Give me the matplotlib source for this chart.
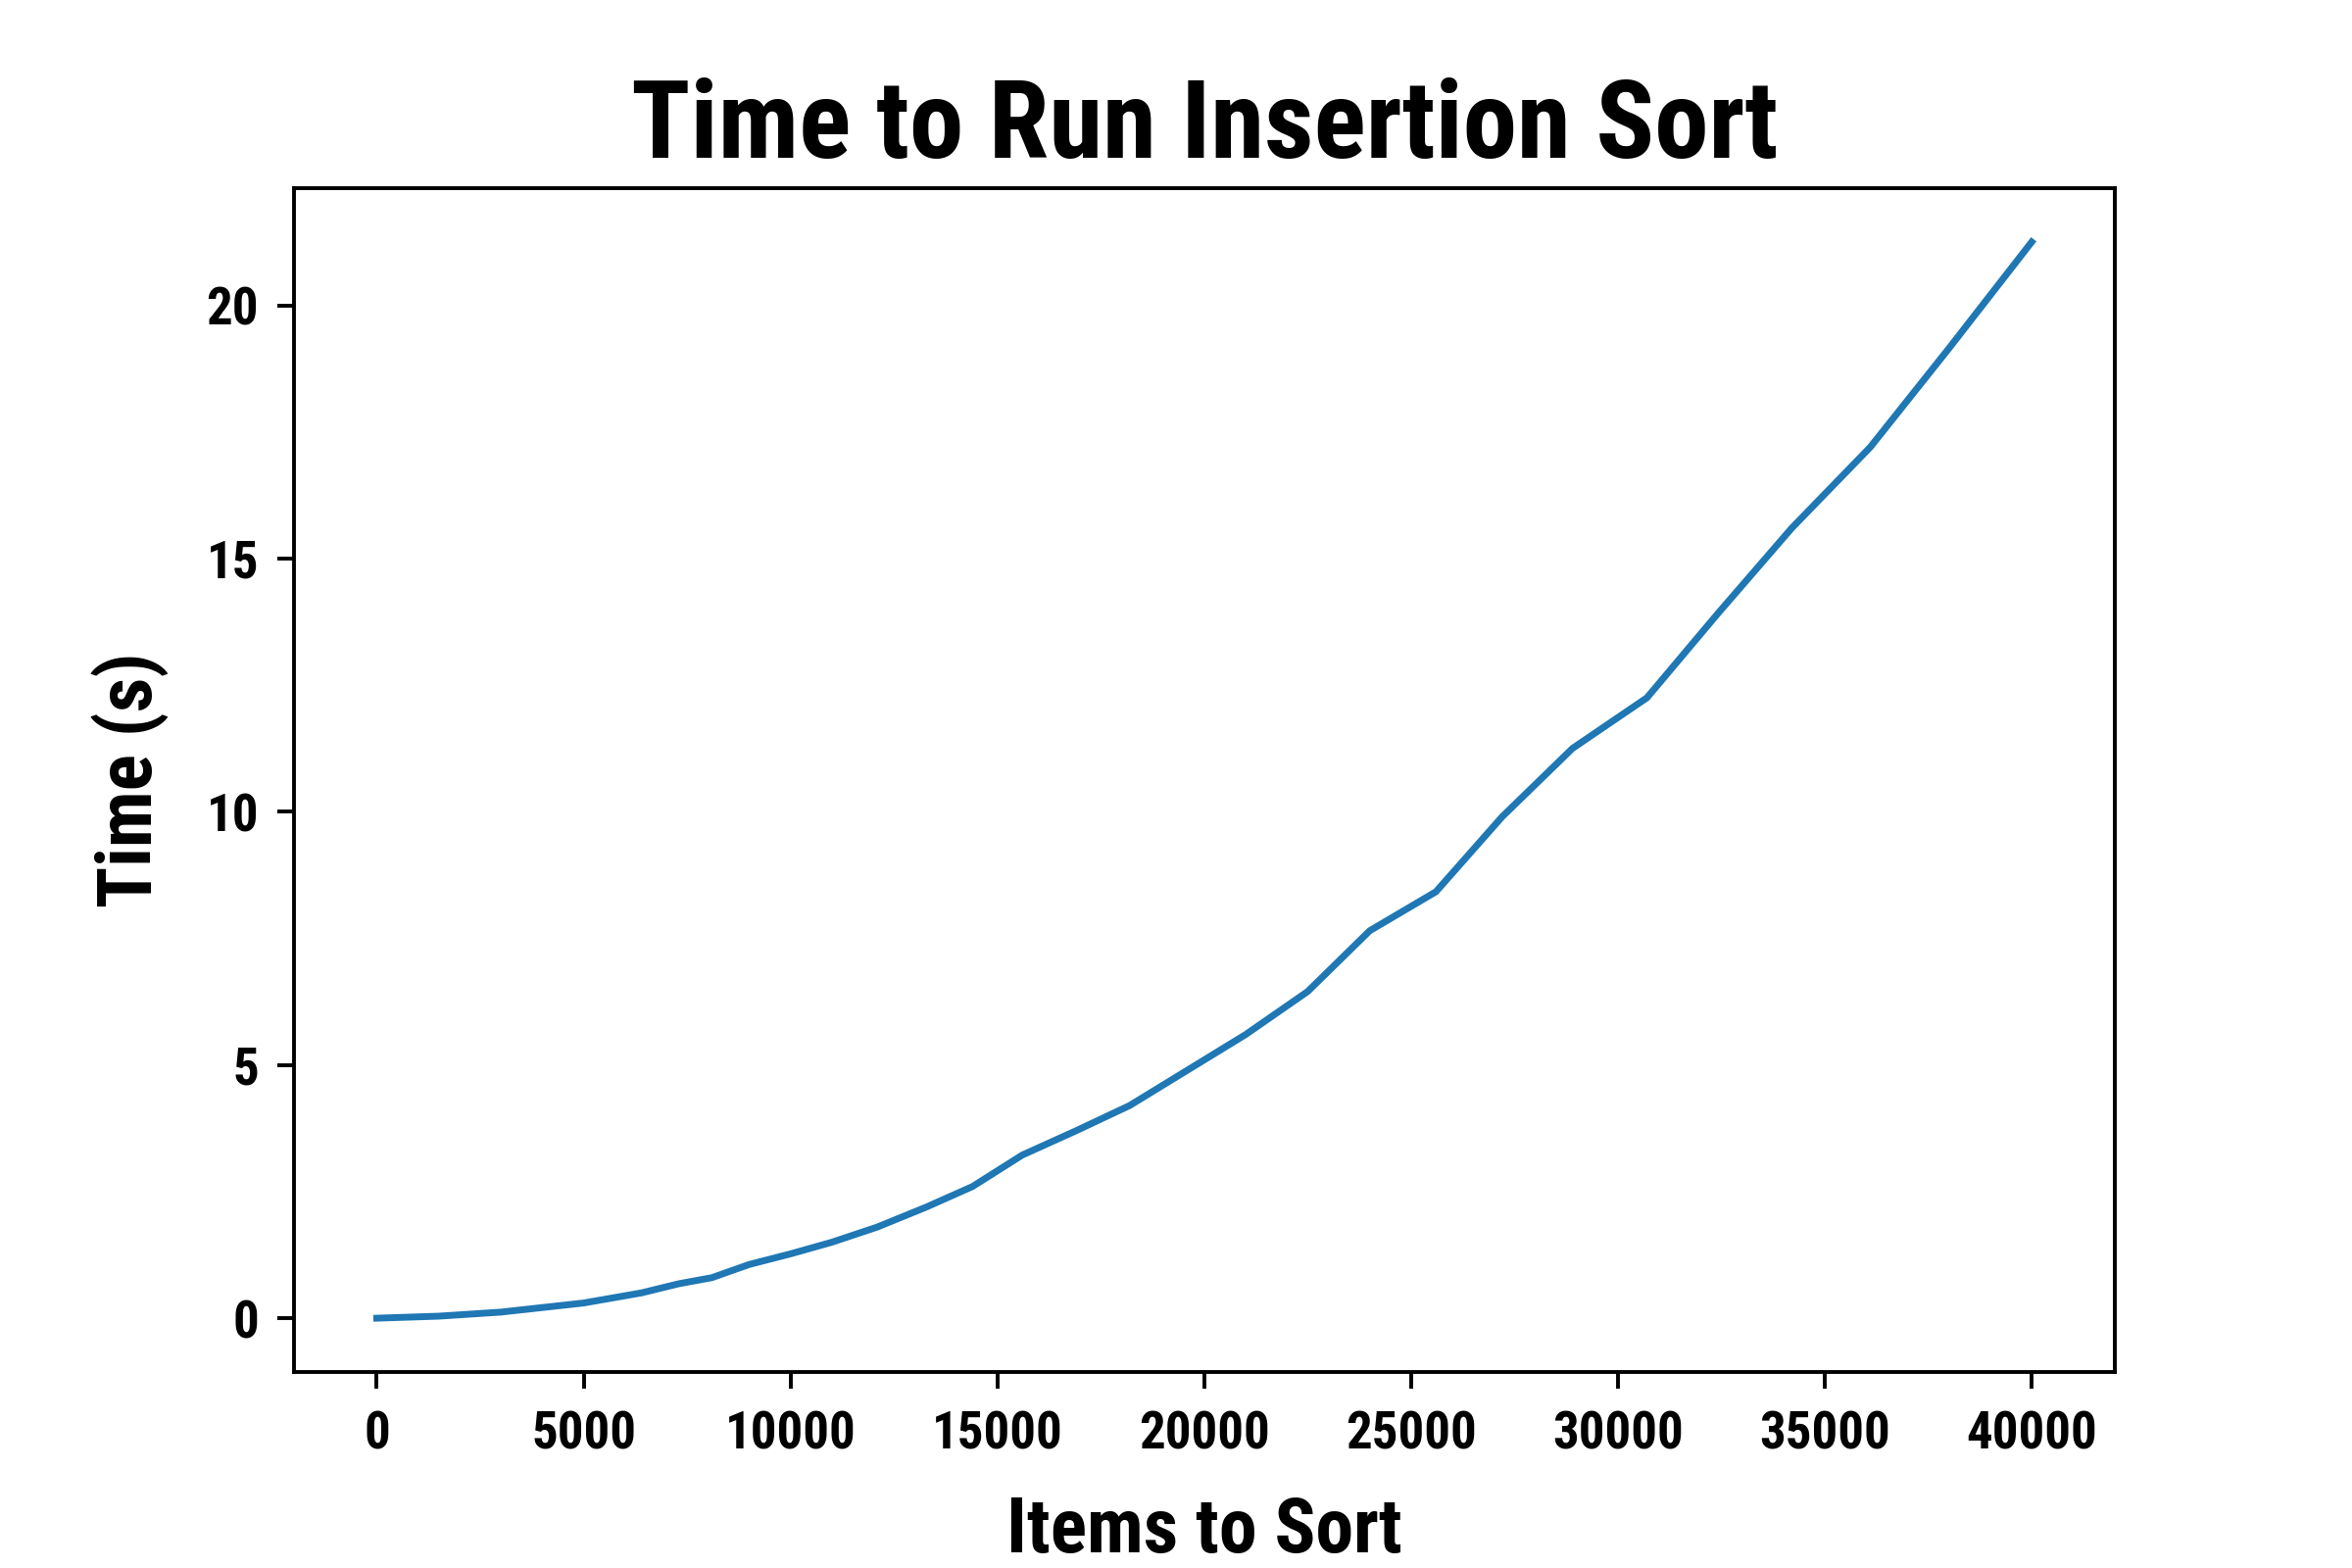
import matplotlib
matplotlib.use("Agg")
import matplotlib.pyplot as plt

# measured run times of insertion sort
items = [0, 1500, 3000, 5000, 6400, 7300, 8100, 9000, 10000, 11000, 12100,
         13300, 14400, 15600, 16900, 18200, 19600, 21000, 22500, 24000,
         25600, 27200, 28900, 30700, 32400, 34200, 36100, 38000, 40000]
seconds = [0.0, 0.04, 0.12, 0.3, 0.5, 0.68, 0.8, 1.06, 1.27, 1.5, 1.8,
           2.2, 2.6, 3.22, 3.7, 4.2, 4.9, 5.6, 6.45, 7.65,
           8.42, 9.9, 11.25, 12.25, 13.9, 15.6, 17.2, 19.15, 21.25]

title = "Time to Run Insertion Sort"
xlabel = "Items to Sort"
ylabel = "Time (s)"

# condensed bold look, falls back if a family is missing
fonts = ["Roboto Condensed", "Liberation Sans Narrow", "DejaVu Sans"]
plt.rcParams["font.family"] = fonts
plt.rcParams["font.weight"] = "bold"
plt.rcParams["font.stretch"] = "condensed"

fig, ax = plt.subplots(figsize=(12, 8), dpi=200)
fig.subplots_adjust(left=0.125, right=0.899, top=0.88, bottom=0.125)

ax.plot(items, seconds, color="#1f77b4", linewidth=2.5)

ax.set_title(title, fontsize=40, fontweight="bold", pad=11)
ax.set_xlabel(xlabel, fontsize=28, fontweight="bold", labelpad=13)
ax.set_ylabel(ylabel, fontsize=28, fontweight="bold", labelpad=14)

ax.set_xticks(range(0, 40001, 5000))
ax.set_yticks(range(0, 21, 5))
ax.tick_params(labelsize=19, length=6, width=1.4)
ax.tick_params(axis="x", pad=8)
ax.tick_params(axis="y", pad=7)
for lbl in ax.get_xticklabels() + ax.get_yticklabels():
    lbl.set_fontweight("bold")
for sp in ax.spines.values():
    sp.set_linewidth(1.4)

fig.savefig("out.png", dpi=200)
